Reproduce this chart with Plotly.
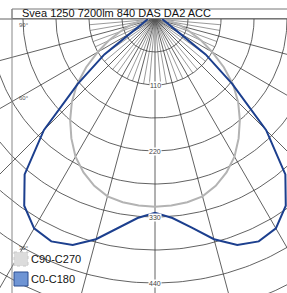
import numpy as np
import plotly.graph_objects as go

# ---- data ----
gamma_deg = [0, 5, 10, 15, 20, 25, 30, 35, 40, 45, 50, 55, 60, 65, 70, 75, 80, 85, 90]
c0_c180 = [323, 333, 353, 380, 401, 409, 403, 380, 338, 262, 168, 103, 47, 31, 22, 18, 15, 13, 12]
c90_c270 = [313, 312, 310, 306, 296, 282, 265, 243, 220, 196, 170, 140, 110, 85, 62, 45, 30, 18, 10]
ring_labels = [110, 220, 330, 440]
angle_labels = ["90°", "60°", "30°"]
series_names = ["C90-C270", "C0-C180"]
title = "Svea 1250 7200lm 840 DAS DA2 ACC"
unit = "cd/klm"

W, H = 287, 293
CX, CY, S = 155, 19, 0.6  # centre pixel and px per cd/klm
FONT = "Liberation Sans, Arial"


def px(x):
    return x / W


def py(y):
    return 1 - y / H


def full_curve(vals):
    ang = [-a for a in gamma_deg[::-1]] + gamma_deg[1:]
    v = vals[::-1] + vals[1:]
    a = np.radians(ang)
    v = np.array(v, float)
    return v * np.sin(a), -v * np.cos(a)


fig = go.Figure()

# grid arcs
gx, gy = [], []
th = np.radians(np.linspace(-90, 90, 181))
for R in range(55, 600, 55):
    gx += list(R * np.sin(th)) + [None]
    gy += list(-R * np.cos(th)) + [None]
# spokes every 15 deg
for a in range(-90, 91, 15):
    r = np.radians(a)
    gx += [0, 800 * np.sin(r), None]
    gy += [0, -800 * np.cos(r), None]
fig.add_trace(go.Scatter(x=gx, y=gy, mode="lines", line=dict(color="#3a3a3a", width=0.8),
                         hoverinfo="skip", showlegend=False))
# fine spokes every 5 deg near centre
fx, fy = [], []
for a in range(-85, 86, 5):
    if a % 15 == 0:
        continue
    r = np.radians(a)
    fx += [0, 110 * np.sin(r), None]
    fy += [0, -110 * np.cos(r), None]
fig.add_trace(go.Scatter(x=fx, y=fy, mode="lines", line=dict(color="#555", width=0.6),
                         hoverinfo="skip", showlegend=False))

x90, y90 = full_curve(c90_c270)
fig.add_trace(go.Scatter(x=x90, y=y90, mode="lines", name=series_names[0],
                         line=dict(color="#b3b3b3", width=2), showlegend=False))
x0, y0 = full_curve(c0_c180)
fig.add_trace(go.Scatter(x=x0, y=y0, mode="lines", name=series_names[1],
                         line=dict(color="#1c3f8e", width=2), showlegend=False))

ann = []
for v in ring_labels:
    ann.append(dict(x=0, y=-v, xref="x", yref="y", text=str(v), showarrow=False,
                    font=dict(size=7, color="#444", family=FONT),
                    bgcolor="white", borderpad=0))
ann.append(dict(x=0, y=-453, xref="x", yref="y", text=unit, showarrow=False, yanchor="top",
                font=dict(size=7, color="#444", family=FONT)))
for t, yy in zip(angle_labels, [20, 98, 253]):
    ann.append(dict(x=px(17), y=py(yy), xref="paper", yref="paper", text=t, showarrow=False,
                    font=dict(size=6, color="#555", family=FONT)))
ann.append(dict(x=px(29), y=py(259), xref="paper", yref="paper", text=series_names[0], showarrow=False,
                xanchor="left", yanchor="middle", align="left",
                font=dict(size=11, color="#111", family=FONT)))
ann.append(dict(x=px(29), y=py(279), xref="paper", yref="paper", text=series_names[1], showarrow=False,
                xanchor="left", yanchor="middle", align="left",
                font=dict(size=11, color="#111", family=FONT)))

shapes = [
    dict(type="rect", xref="paper", yref="paper", x0=px(12), x1=px(300), y0=py(9), y1=py(18.5),
         line=dict(color="#777", width=1), fillcolor="rgba(0,0,0,0)", layer="above"),
    dict(type="line", xref="paper", yref="paper", x0=px(12), x1=px(12), y0=py(9), y1=py(300),
         line=dict(color="#888", width=1), layer="above"),
    dict(type="rect", xref="paper", yref="paper", x0=px(14), x1=px(28), y0=py(252), y1=py(266),
         line=dict(color="#c8c8c8", width=1, dash="dot"), fillcolor="#dcdcdc", layer="above"),
    dict(type="rect", xref="paper", yref="paper", x0=px(14), x1=px(28), y0=py(272), y1=py(286),
         line=dict(color="#2a4d8f", width=1), fillcolor="#6e94d4", layer="above"),
]

fig.update_layout(
    width=W, height=H, margin=dict(l=0, r=0, t=0, b=0),
    paper_bgcolor="white", plot_bgcolor="white",
    title=dict(text=title, x=px(22), xanchor="left", xref="paper",
               y=py(13.5), yanchor="middle", yref="paper",
               font=dict(size=11, color="#111", family=FONT)),
    xaxis=dict(range=[-CX / S, (W - CX) / S], visible=False, fixedrange=True),
    yaxis=dict(range=[-(H - CY) / S, CY / S], visible=False, fixedrange=True),
    annotations=ann, shapes=shapes, showlegend=False,
)

fig.write_html("out.html", config={"displayModeBar": False},
               post_script="document.body.style.margin='0px';document.body.style.overflow='hidden';")
